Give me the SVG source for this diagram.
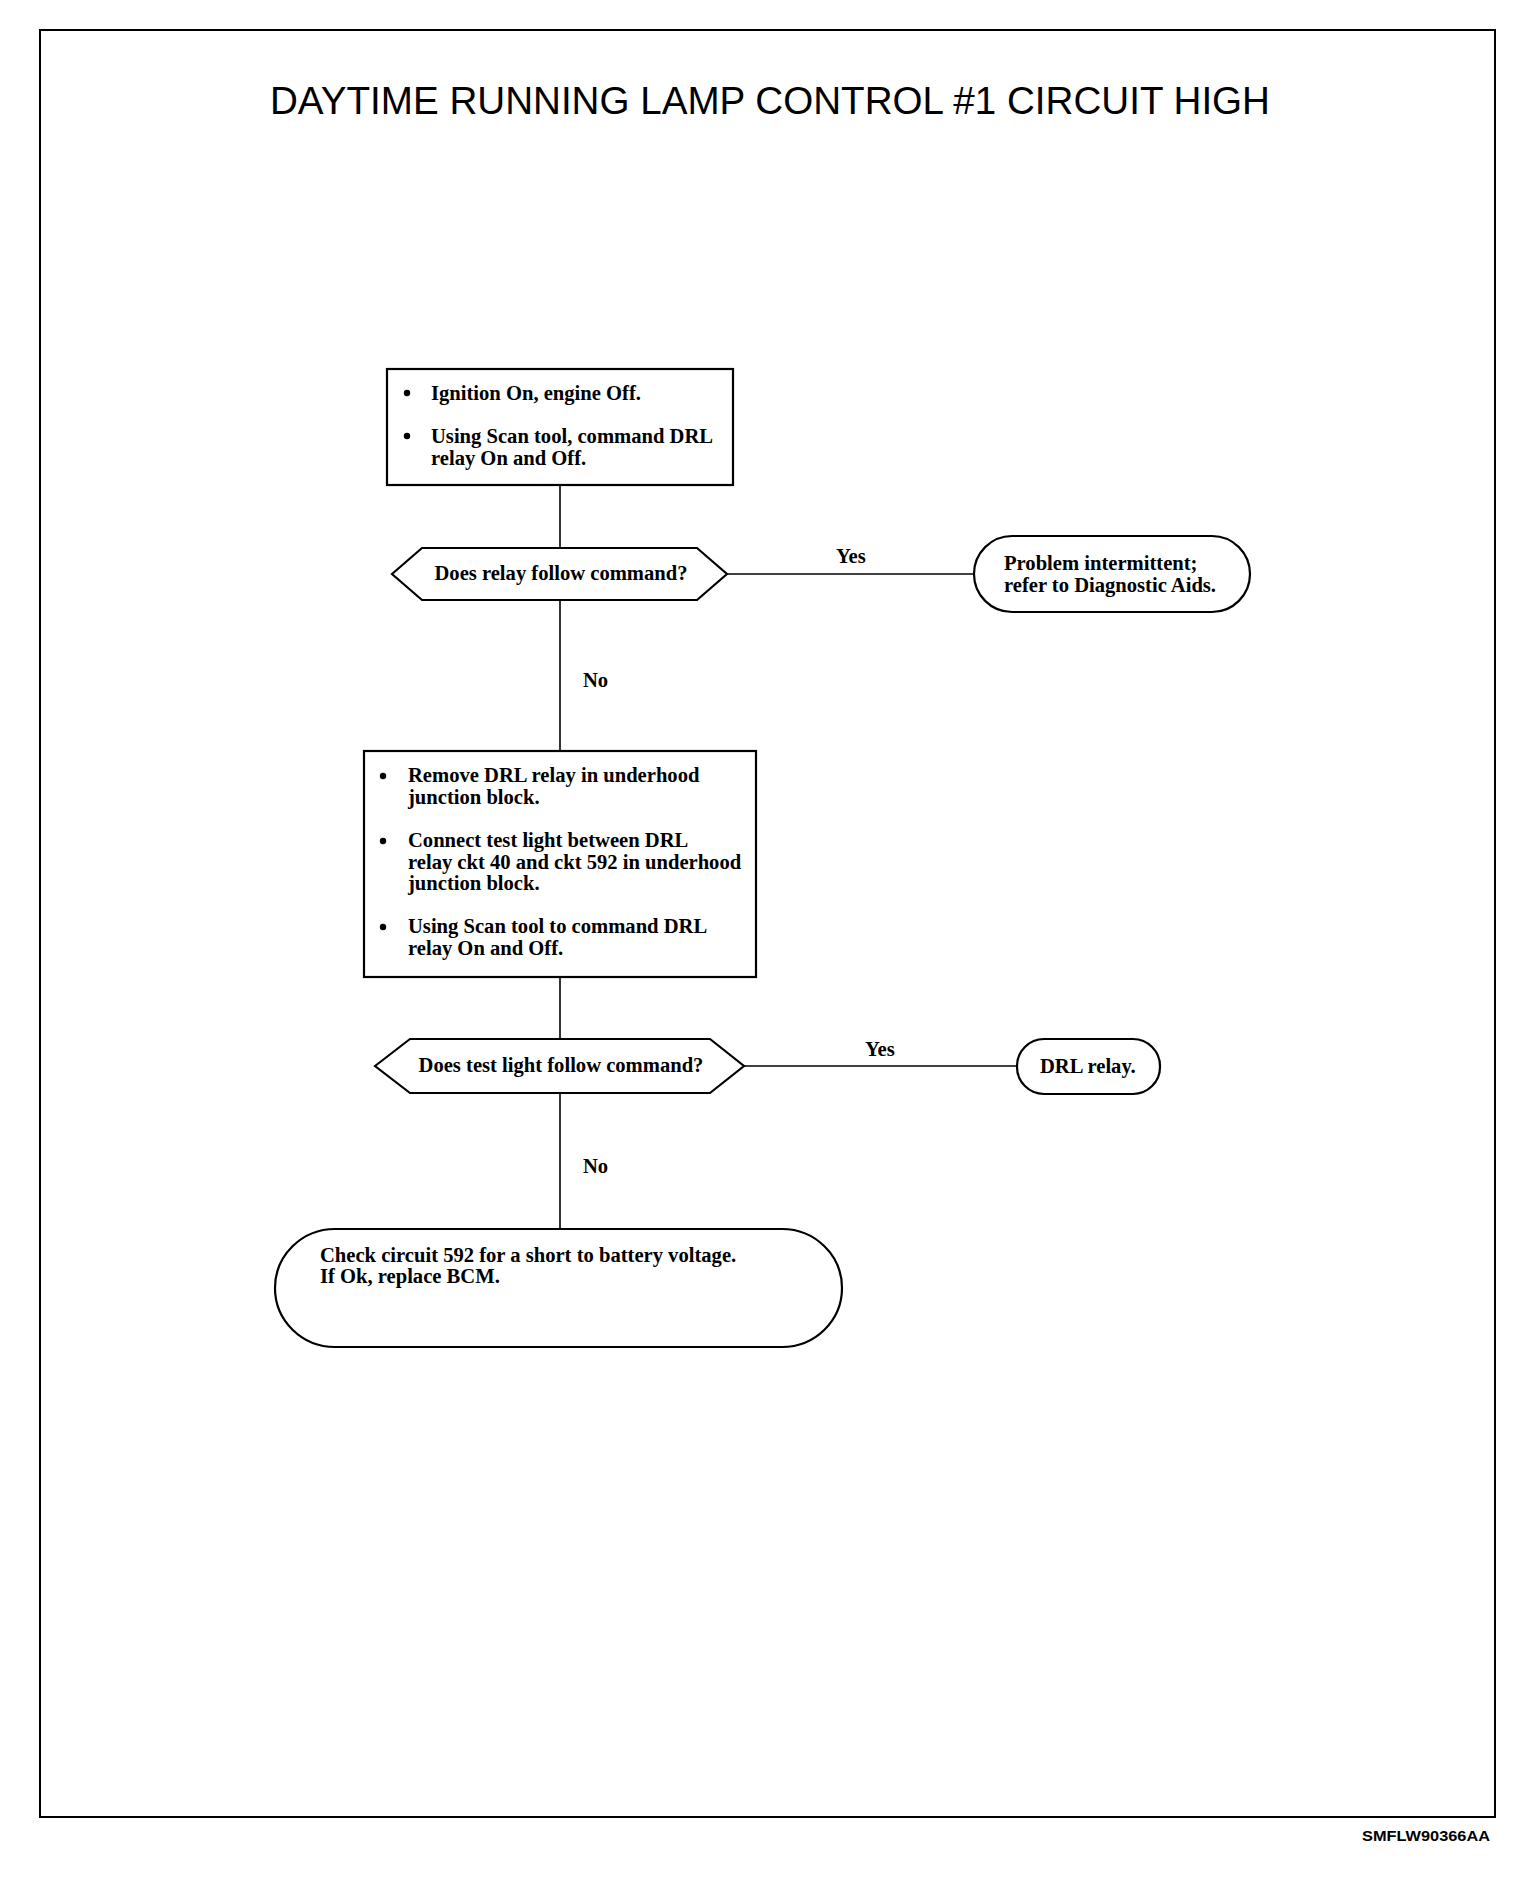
<svg xmlns="http://www.w3.org/2000/svg" width="1536" height="1878" viewBox="0 0 1536 1878">
<style>
.frame{fill:none;stroke:#000;stroke-width:2}
.node{fill:#fff;stroke:#000;stroke-width:2.2}
.edge{fill:none;stroke:#000;stroke-width:1.6}
.t{font-family:"Liberation Serif","Times New Roman",serif;font-size:20.6px;font-weight:bold;fill:#000}
.lbl{font-family:"Liberation Serif","Times New Roman",serif;font-size:20.6px;font-weight:bold;fill:#000}
.title{font-family:"Liberation Sans",Arial,sans-serif;font-size:38px;fill:#000}
.foot{font-family:"Liberation Sans",Arial,sans-serif;font-size:15px;font-weight:bold;fill:#000}
</style>
<rect width="1536" height="1878" fill="#fff"/>
<rect class="frame" x="40" y="30" width="1455" height="1787"/>
<text class="title" x="770" y="114" text-anchor="middle" textLength="1000" lengthAdjust="spacingAndGlyphs">DAYTIME RUNNING LAMP CONTROL #1 CIRCUIT HIGH</text>
<text class="foot" x="1362" y="1841" textLength="128" lengthAdjust="spacingAndGlyphs">SMFLW90366AA</text>
<g id="connectors">
<line class="edge" x1="560" y1="485" x2="560" y2="548"/>
<line class="edge" x1="560" y1="600" x2="560" y2="751"/>
<line class="edge" x1="727" y1="574" x2="974" y2="574"/>
<line class="edge" x1="560" y1="977" x2="560" y2="1039"/>
<line class="edge" x1="560" y1="1093" x2="560" y2="1229"/>
<line class="edge" x1="744" y1="1066" x2="1017" y2="1066"/>
<text class="lbl" x="836" y="563">Yes</text>
<text class="lbl" x="583" y="687">No</text>
<text class="lbl" x="865" y="1056">Yes</text>
<text class="lbl" x="583" y="1173">No</text>
</g>
<g id="step1">
<rect class="node" x="387" y="369" width="346" height="116"/>
<circle cx="407" cy="393" r="3.2"/>
<text class="t" x="431" y="400">Ignition On, engine Off.</text>
<circle cx="407" cy="436" r="3.2"/>
<text class="t" x="431" y="443">Using Scan tool, command DRL</text>
<text class="t" x="431" y="465">relay On and Off.</text>
</g>
<g id="decision1">
<polygon class="node" points="392,574 422,548 697,548 727,574 697,600 422,600"/>
<text class="t" x="561" y="580" text-anchor="middle">Does relay follow command?</text>
</g>
<g id="result1">
<rect class="node" x="974" y="536" width="276" height="76" rx="38" ry="38"/>
<text class="t" x="1004" y="570">Problem intermittent;</text>
<text class="t" x="1004" y="592">refer to Diagnostic Aids.</text>
</g>
<g id="step2">
<rect class="node" x="364" y="751" width="392" height="226"/>
<circle cx="383" cy="776" r="3.2"/>
<text class="t" x="408" y="782">Remove DRL relay in underhood</text>
<text class="t" x="408" y="804">junction block.</text>
<circle cx="383" cy="841" r="3.2"/>
<text class="t" x="408" y="847">Connect test light between DRL</text>
<text class="t" x="408" y="869">relay ckt 40 and ckt 592 in underhood</text>
<text class="t" x="408" y="890">junction block.</text>
<circle cx="383" cy="927" r="3.2"/>
<text class="t" x="408" y="933">Using Scan tool to command DRL</text>
<text class="t" x="408" y="955">relay On and Off.</text>
</g>
<g id="decision2">
<polygon class="node" points="375,1066 410,1039 710,1039 744,1066 710,1093 410,1093"/>
<text class="t" x="561" y="1072" text-anchor="middle">Does test light follow command?</text>
</g>
<g id="result2">
<rect class="node" x="1017" y="1039" width="143" height="55" rx="27" ry="27"/>
<text class="t" x="1040" y="1073">DRL relay.</text>
</g>
<g id="result3">
<rect class="node" x="275" y="1229" width="567" height="118" rx="60" ry="59"/>
<text class="t" x="320" y="1262">Check circuit 592 for a short to battery voltage.</text>
<text class="t" x="320" y="1283">If Ok, replace BCM.</text>
</g>
</svg>
